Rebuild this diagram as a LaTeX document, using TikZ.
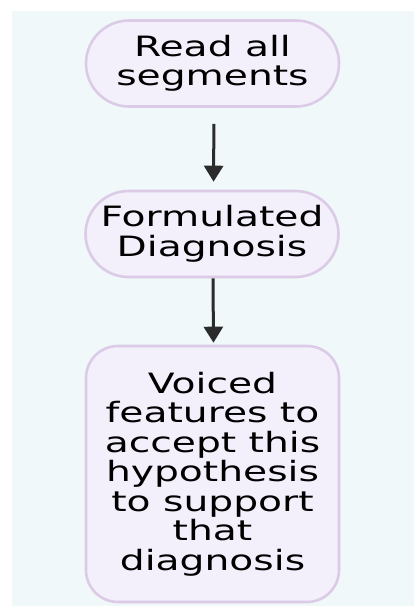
\documentclass[tikz,border=0pt]{standalone}
\usepackage{fontspec}
\setmainfont{DejaVu Sans}[FakeStretch=1.4]
\usetikzlibrary{arrows.meta}
\definecolor{pagebg}{HTML}{F0F8FA}
\definecolor{boxfill}{HTML}{F3F0FC}
\definecolor{boxline}{HTML}{DCCBE6}
\definecolor{arrowdark}{HTML}{2B2B2B}
\tikzset{
  flowbox/.style={draw=boxline, fill=boxfill, line width=2.6pt,
    minimum width=253pt, inner sep=0pt, align=center,
    font=\fontsize{28}{29.5}\selectfont},
  pill/.style={flowbox, minimum height=86pt, rounded corners=43pt},
  tallbox/.style={flowbox, minimum height=256pt, rounded corners=32pt},
  flowarrow/.style={draw=arrowdark, line width=3pt,
    -{Triangle[width=19pt,length=16pt]}}
}
\begin{document}
\begin{tikzpicture}[x=1pt,y=-1pt]
  \useasboundingbox (0,0) rectangle (414,606);
  \fill[white] (0,0) rectangle (414,606);
  \fill[pagebg] (12,11) rectangle (414,606);

  \node[pill] (read) at (212.5,63.5) {Read all\\segments};
  \node[pill] (diag) at (212,234) {Formulated\\Diagnosis};
  \node[tallbox] (voiced) at (212.5,474) {Voiced\\features to\\accept this\\hypothesis\\to support\\that\\diagnosis};

  \draw[flowarrow, shorten <=16pt, shorten >=8pt]
    ([xshift=1.5pt]read.south) -- ([xshift=1.5pt]diag.north);
  \draw[flowarrow, shorten >=2pt]
    ([xshift=1pt]diag.south) -- ([xshift=1pt]voiced.north);
\end{tikzpicture}
\end{document}
